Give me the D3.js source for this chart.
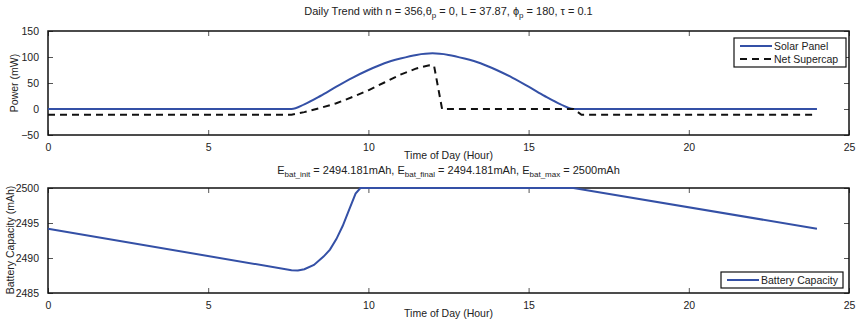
<!DOCTYPE html>
<html>
<head>
<meta charset="utf-8">
<script src="https://cdn.jsdelivr.net/npm/d3@7/dist/d3.min.js"></script>
<style>
  body { margin: 0; background: #fff; }
  text { font-family: "Liberation Sans", Arial, Helvetica, sans-serif; fill: #222; }
</style>
</head>
<body>
<div id="chart"></div>
<script>
// ---- data ----
var hourTicks = [0, 5, 10, 15, 20, 25];
var powerTicks = [-50, 0, 50, 100, 150];
var capTicks = [2485, 2490, 2495, 2500];

// solar panel output (mW)
var solarHours = [0, 7.6, 8, 8.5, 9, 9.5, 10, 10.5, 11, 11.5, 12, 12.5, 13, 13.5, 14, 14.5, 15, 15.5, 16, 16.4, 24];
var solarPower = [0, 0, 9, 25, 43, 60, 75, 88, 97, 104, 107, 104, 97, 88, 75, 60, 43, 25, 9, 0, 0];

// net supercap power (mW)
var capHours = [0, 7.6, 8, 8.5, 9, 9.5, 10, 10.5, 11, 11.5, 11.9, 12.05, 12.3, 16.4, 16.65, 24];
var capPower = [-11, -11, -6, 2, 11, 23, 36, 51, 66, 78, 84, 83, 0, 0, -11, -11];

// battery capacity (mAh)
var batHours = [0, 7.6, 7.8, 8.0, 8.3, 8.6, 8.8, 9.0, 9.2, 9.4, 9.6, 9.75, 16.4, 24];
var batCapacity = [2494.181, 2488.25, 2488.2, 2488.4, 2489.0, 2490.2, 2491.2, 2492.7, 2494.6, 2496.9, 2499.2, 2500, 2500, 2494.181];

var width = 860, height = 324;
var fontSize = 11;
var tickFont = 10.5;

var svg = d3.select("#chart").append("svg")
    .attr("width", width)
    .attr("height", height);

var x = d3.scaleLinear().domain([0, 25]).range([48, 849]);
var yTop = d3.scaleLinear().domain([-50, 150]).range([135, 31]);
var yBot = d3.scaleLinear().domain([2485, 2500]).range([293, 188]);

// draws a boxed axes with inward ticks on all four sides
function drawAxes(y, yTicks) {
    var g = svg.append("g");
    var r = y.range();
    var top = r[1], bottom = r[0];
    var fmt = function(d) { return d < 0 ? "\u2212" + Math.abs(d) : d; };

    g.append("g")
        .attr("transform", "translate(0," + bottom + ")")
        .call(d3.axisBottom(x).tickValues(hourTicks).tickFormat(fmt).tickSizeInner(-5).tickSizeOuter(0).tickPadding(9));
    g.append("g")
        .attr("transform", "translate(48,0)")
        .call(d3.axisLeft(y).tickValues(yTicks).tickFormat(fmt).tickSizeInner(-5).tickSizeOuter(0).tickPadding(9));
    // top and right: ticks only
    g.append("g")
        .attr("transform", "translate(0," + top + ")")
        .call(d3.axisTop(x).tickValues(hourTicks).tickSizeInner(-5).tickSizeOuter(0).tickFormat(""));
    g.append("g")
        .attr("transform", "translate(849,0)")
        .call(d3.axisRight(y).tickValues(yTicks).tickSizeInner(-5).tickSizeOuter(0).tickFormat(""));

    g.selectAll(".domain").remove();
    g.selectAll(".tick line").attr("stroke", "#555").attr("stroke-width", 1);
    g.selectAll(".tick text")
        .style("font-size", tickFont + "px")
        .style("font-family", "'Liberation Sans', Arial, sans-serif")
        .attr("fill", "#222");

    g.append("rect")
        .attr("x", 48).attr("y", top)
        .attr("width", 849 - 48).attr("height", bottom - top)
        .attr("fill", "none")
        .attr("stroke", "#111")
        .attr("stroke-width", 1.5);
    return g;
}

drawAxes(yTop, powerTicks);
drawAxes(yBot, capTicks);

// data lines
function series(xs, ys, y) {
    return xs.map(function(h, i) { return [x(h), y(ys[i])]; });
}
var line = d3.line().curve(d3.curveMonotoneX);
var blue = "#3450a6";

svg.append("path")
    .attr("d", line(series(solarHours, solarPower, yTop)))
    .attr("fill", "none").attr("stroke", blue).attr("stroke-width", 2);
svg.append("path")
    .attr("d", d3.line()(series(capHours, capPower, yTop)))
    .attr("fill", "none").attr("stroke", "#111").attr("stroke-width", 2)
    .attr("stroke-dasharray", "7,5");
svg.append("path")
    .attr("d", d3.line()(series(batHours, batCapacity, yBot)))
    .attr("fill", "none").attr("stroke", blue).attr("stroke-width", 2);

// titles and labels
function subText(sel, parts) {
    parts.forEach(function(p) {
        var t = sel.append("tspan").text(p[0]);
        if (p[1]) t.attr("baseline-shift", "-35%").style("font-size", "8px");
    });
}

var t1 = svg.append("text")
    .attr("x", 448.5).attr("y", 15)
    .attr("text-anchor", "middle")
    .style("font-size", fontSize + "px");
subText(t1, [["Daily Trend with n = 356,\u03b8"], ["p", true], [" = 0, L = 37.87, \u03d5"], ["p", true], [" = 180, \u03c4 = 0.1"]]);

var t2 = svg.append("text")
    .attr("x", 448.5).attr("y", 174)
    .attr("text-anchor", "middle")
    .style("font-size", fontSize + "px");
subText(t2, [["E"], ["bat_init", true], [" = 2494.181mAh, E"], ["bat_final", true], [" = 2494.181mAh, E"], ["bat_max", true], [" = 2500mAh"]]);

svg.append("text")
    .attr("x", 448.5).attr("y", 159)
    .attr("text-anchor", "middle")
    .style("font-size", tickFont + "px")
    .text("Time of Day (Hour)");
svg.append("text")
    .attr("x", 448.5).attr("y", 317)
    .attr("text-anchor", "middle")
    .style("font-size", tickFont + "px")
    .text("Time of Day (Hour)");

svg.append("text")
    .attr("transform", "translate(18,83) rotate(-90)")
    .attr("text-anchor", "middle")
    .style("font-size", tickFont + "px")
    .text("Power (mW)");
svg.append("text")
    .attr("transform", "translate(14,240) rotate(-90)")
    .attr("text-anchor", "middle")
    .style("font-size", tickFont + "px")
    .text("Battery Capacity (mAh)");

// legends
function legend(x0, y0, w, items) {
    var g = svg.append("g");
    g.append("rect")
        .attr("x", x0).attr("y", y0)
        .attr("width", w).attr("height", items.length * 13 + 3)
        .attr("fill", "#fff").attr("stroke", "#111").attr("stroke-width", 1.2);
    items.forEach(function(it, i) {
        var cy = y0 + 8 + i * 13;
        g.append("line")
            .attr("x1", x0 + 6).attr("x2", x0 + 38)
            .attr("y1", cy).attr("y2", cy)
            .attr("stroke", it.color).attr("stroke-width", 2)
            .attr("stroke-dasharray", it.dash || null);
        g.append("text")
            .attr("x", x0 + 40).attr("y", cy + 4)
            .style("font-size", tickFont + "px")
            .text(it.name);
    });
}

legend(734, 38, 112, [
    { name: "Solar Panel", color: blue },
    { name: "Net Supercap", color: "#111", dash: "7,5" }
]);
legend(721, 272, 122, [
    { name: "Battery Capacity", color: blue }
]);
</script>
</body>
</html>
